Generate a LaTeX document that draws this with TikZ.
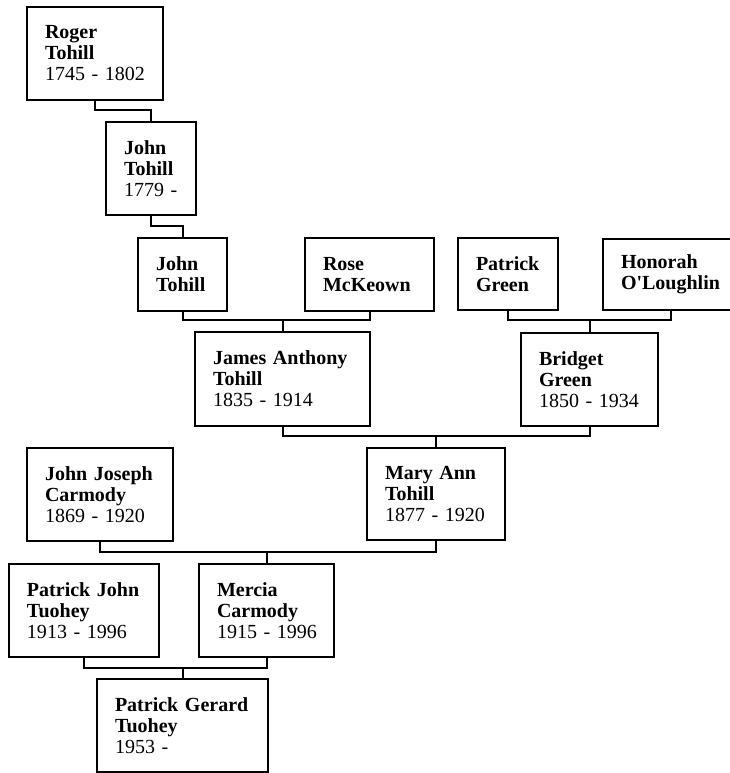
\documentclass[tikz,border=0pt]{standalone}
\usepackage{fontspec}
\setmainfont{Liberation Serif}
\hyphenpenalty=10000
\exhyphenpenalty=10000

\tikzset{
  person/.style={draw, line width=2pt, anchor=north west, align=left,
    inner xsep=18pt, inner ysep=0pt,
    font=\fontsize{20}{21}\selectfont},
  link/.style={line width=2pt}
}

\begin{document}
\begin{tikzpicture}[x=1pt,y=1pt]
\clip (0,0) rectangle (730,-773);
\fill[white] (0,0) rectangle (730,-773);

% generation 1 and 2
\node[person, text width=100pt, minimum width=136pt, minimum height=93pt] (roger) at (26,-6)
  {\textbf{Roger}\\ \textbf{Tohill}\\ 1745~-~1802};
\node[person, text width=54pt, minimum width=90pt, minimum height=93pt] (johnA) at (105,-121)
  {\textbf{John}\\ \textbf{Tohill}\\ 1779~-};

% generation 3
\node[person, text width=53pt, minimum width=89pt, minimum height=73pt] (johnB) at (137,-237)
  {\textbf{John}\\ \textbf{Tohill}};
\node[person, text width=93pt, minimum width=129pt, minimum height=73pt] (rose) at (304,-237)
  {\textbf{Rose}\\ \textbf{McKeown}};
\node[person, text width=64pt, minimum width=100pt, minimum height=72pt] (patrickG) at (457,-237)
  {\textbf{Patrick}\\ \textbf{Green}};
\node[person, text width=100pt, minimum width=136pt, minimum height=71pt] (honorah) at (602,-238)
  {\textbf{Honorah}\\ \textbf{O\textquotesingle Loughlin}};

% generation 4
\node[person, text width=139pt, minimum width=175pt, minimum height=94pt] (james) at (194,-331)
  {\textbf{James Anthony}\\ \textbf{Tohill}\\ 1835~-~1914};
\node[person, text width=101pt, minimum width=137pt, minimum height=93pt] (bridget) at (520,-332)
  {\textbf{Bridget}\\ \textbf{Green}\\ 1850~-~1934};

% generation 5
\node[person, text width=110pt, minimum width=146pt, minimum height=93pt] (jjc) at (26,-447)
  {\textbf{John Joseph}\\ \textbf{Carmody}\\ 1869~-~1920};
\node[person, text width=102pt, minimum width=138pt, minimum height=92pt] (maryann) at (366,-447)
  {\textbf{Mary Ann}\\ \textbf{Tohill}\\ 1877~-~1920};

% generation 6
\node[person, text width=114pt, minimum width=150pt, minimum height=93pt] (pjt) at (8,-563)
  {\textbf{Patrick John}\\ \textbf{Tuohey}\\ 1913~-~1996};
\node[person, text width=99pt, minimum width=135pt, minimum height=93pt] (mercia) at (198,-563)
  {\textbf{Mercia}\\ \textbf{Carmody}\\ 1915~-~1996};

% generation 7
\node[person, text width=135pt, minimum width=171pt, minimum height=93pt] (pgt) at (96,-678)
  {\textbf{Patrick Gerard}\\ \textbf{Tuohey}\\ 1953~-};

% bars between generations
\coordinate (barA) at (0,-110);
\coordinate (barB) at (0,-226);
\coordinate (barC) at (0,-320);
\coordinate (barD) at (0,-436);
\coordinate (barE) at (0,-552);
\coordinate (barF) at (0,-668);

\draw[link] (roger.south) |- (barA -| johnA.north) -- (johnA.north);
\draw[link] (johnA.south) |- (barB -| johnB.north) -- (johnB.north);

\draw[link] (johnB.south) |- (barC -| rose.south) -- (rose.south);
\draw[link] (james.north) -- (james.north |- barC);
\draw[link] (patrickG.south) |- (barC -| honorah.south) -- (honorah.south);
\draw[link] (bridget.north) -- (bridget.north |- barC);

\draw[link] (james.south) |- (barD -| bridget.south) -- (bridget.south);
\draw[link] (maryann.north) -- (maryann.north |- barD);

\draw[link] (jjc.south) |- (barE -| maryann.south) -- (maryann.south);
\draw[link] (mercia.north) -- (mercia.north |- barE);

\draw[link] (pjt.south) |- (barF -| mercia.south) -- (mercia.south);
\draw[link] (pgt.north) -- (pgt.north |- barF);
\end{tikzpicture}
\end{document}
